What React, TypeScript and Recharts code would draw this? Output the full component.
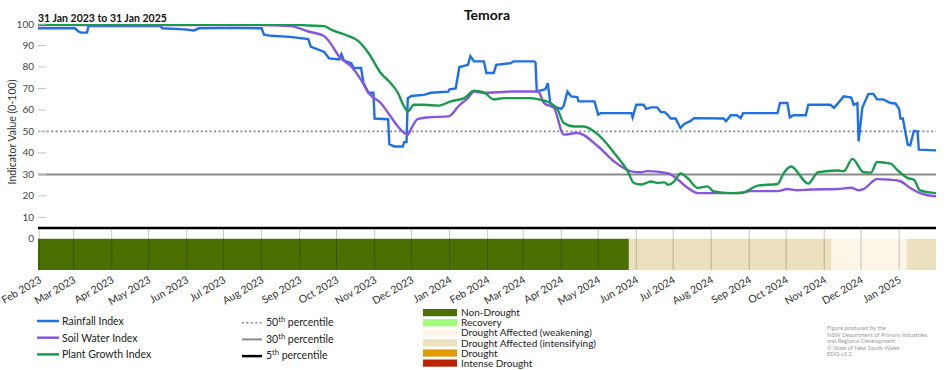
import React from "react";
import { LineChart, Line, XAxis, YAxis, ReferenceLine, ReferenceArea } from "recharts";

const START = Date.UTC(2023, 0, 31);
const DAY = 86400000;
const FONT = "Lato, 'Open Sans', sans-serif";

// x values: days since 31 Jan 2023
const rainDay = [
  0, 30, 33, 35, 40, 41, 100, 101, 119, 127, 131, 160, 182, 184, 190, 205, 220, 222, 233, 237,
  245, 247, 249, 255, 257, 263, 265, 269, 273, 274, 285, 286, 290, 297, 298, 300, 301, 304, 314, 320,
  334, 335, 340, 343, 350, 352, 355, 363, 365, 371, 373, 385, 387, 404, 405, 406, 413, 415, 417, 420,
  426, 428, 431, 434, 439, 440, 453, 456, 458, 483, 484, 487, 493, 495, 499, 504, 507, 510, 513, 515,
  519, 523, 526, 531, 534, 558, 560, 564, 569, 572, 574, 602, 604, 610, 612, 615, 625, 627, 645, 648,
  656, 662, 664, 667, 668, 671, 676, 680, 683, 688, 694, 698, 701, 702, 704, 708, 710, 713, 716, 717,
  731,
];
const rainValue = [
  98, 98, 96.5, 96, 96, 99, 99, 98, 97.5, 97, 98, 98.2, 98, 95, 94.5, 94, 93, 89.5, 87, 84,
  83.5, 86, 83, 81.8, 79.5, 79.5, 72.5, 68, 68, 56, 55.7, 44, 43, 43, 45, 45, 65.5, 66.5, 67, 68,
  68.5, 69.6, 70, 80, 81, 85, 82.6, 82.6, 77.2, 77.2, 81, 81.8, 82.6, 82.6, 82, 68.6, 69.6, 72.5, 63.2, 61.5,
  60.5, 62, 68.6, 66.3, 66, 64, 64, 57.8, 58.5, 58.5, 56.5, 62.4, 62.4, 60.5, 61.2, 61.2, 59, 59, 57.5, 56,
  56, 51.6, 53.5, 54.8, 56.2, 56, 54.8, 57.5, 57.5, 56.2, 58.5, 58.5, 63.2, 63.2, 56.5, 57.5, 57.5, 62.4, 62.4, 61,
  66.3, 65.8, 62.4, 63.2, 45.4, 61, 67.5, 67.5, 64.9, 64.9, 63.2, 63, 60.5, 56, 56, 43.8, 43.5, 50.3, 50, 41.5,
  41.2,
];

const soilDay = [
  0, 180, 206, 220, 233, 239, 245, 255, 263, 269, 279, 287, 293, 298, 301, 304, 309, 317, 334, 336,
  342, 350, 355, 363, 374, 387, 407, 412, 420, 428, 439, 456, 469, 483, 491, 496, 507, 513, 521, 529,
  537, 572, 580, 602, 610, 618, 629, 651, 662, 668, 672, 683, 694, 702, 710, 718, 731,
];
const soilValue = [
  99.5, 99.5, 99, 96.5, 94.3, 90.3, 85, 80.2, 74, 68, 63.2, 57, 52.3, 49.3, 48.5, 51.5, 55.7, 56.5, 57, 57.5,
  61.6, 65.5, 68.6, 67.9, 68.2, 68.6, 68.6, 63.2, 60.9, 48.5, 49.3, 43, 36, 31.4, 31, 31.5, 31, 30.5, 27.5, 23.7,
  21.3, 21.3, 22.2, 22.2, 23.2, 22.6, 23, 23.2, 23.8, 22.6, 23.2, 27.8, 27.5, 26.8, 23.7, 21.3, 19.8,
];

const plantDay = [
  0, 206, 220, 233, 239, 245, 250, 261, 269, 279, 287, 293, 298, 301, 306, 314, 326, 336, 347, 355,
  363, 371, 379, 401, 407, 417, 423, 428, 436, 444, 456, 469, 480, 485, 491, 499, 504, 510, 513, 518,
  523, 529, 537, 545, 550, 564, 574, 586, 602, 607, 613, 627, 635, 651, 656, 663, 672, 678, 683, 694,
  700, 708, 713, 718, 731,
];
const plantValue = [
  99.8, 99.8, 99.3, 99, 97.3, 96, 95, 91.9, 86.5, 77.2, 72.5, 67.9, 61.6, 59.3, 62.4, 62.4, 62, 64, 65.5, 69,
  68.2, 64.9, 65.5, 65.5, 65, 63.2, 60.1, 53.9, 52.3, 52.3, 48.5, 40, 31.5, 26, 25.3, 26.7, 26, 26.3, 25.2, 26.7,
  30.4, 28.2, 23.7, 24.4, 22.1, 21.3, 21.6, 24.8, 25.5, 30.6, 33.7, 25.7, 31, 31.8, 31.5, 37.2, 31, 30.8, 35.8, 35,
  31.8, 28.3, 27.5, 22.6, 21.3,
];

// drought status strip (days since 31 Jan 2023)
const bandFrom = [0, 481, 646, 707];
const bandTo = [481, 646, 707, 731];
const bandClass = [
  "Non-Drought",
  "Drought Affected (intensifying)",
  "Drought Affected (weakening)",
  "Drought Affected (intensifying)",
];

const monthTicks = [
  "2023-02-01", "2023-03-01", "2023-04-01", "2023-05-01", "2023-06-01", "2023-07-01",
  "2023-08-01", "2023-09-01", "2023-10-01", "2023-11-01", "2023-12-01", "2024-01-01",
  "2024-02-01", "2024-03-01", "2024-04-01", "2024-05-01", "2024-06-01", "2024-07-01",
  "2024-08-01", "2024-09-01", "2024-10-01", "2024-11-01", "2024-12-01", "2025-01-01",
];
const monthLabels = [
  "Feb 2023", "Mar 2023", "Apr 2023", "May 2023", "Jun 2023", "Jul 2023",
  "Aug 2023", "Sep 2023", "Oct 2023", "Nov 2023", "Dec 2023", "Jan 2024",
  "Feb 2024", "Mar 2024", "Apr 2024", "May 2024", "Jun 2024", "Jul 2024",
  "Aug 2024", "Sep 2024", "Oct 2024", "Nov 2024", "Dec 2024", "Jan 2025",
];
const yTicks = [0, 10, 20, 30, 40, 50, 60, 70, 80, 90, 100];

const seriesNames = ["Rainfall Index", "Soil Water Index", "Plant Growth Index"];
const seriesColors = ["#1f6fe6", "#8657dc", "#1a9a4c"];
const pctNames = ["50", "30", "5"];
const classNames = [
  "Non-Drought",
  "Recovery",
  "Drought Affected (weakening)",
  "Drought Affected (intensifying)",
  "Drought",
  "Intense Drought",
];
const classColors: Record<string, string> = {
  "Non-Drought": "#4b6f00",
  Recovery: "#a4fb7c",
  "Drought Affected (weakening)": "#fdf5e8",
  "Drought Affected (intensifying)": "#ece1bf",
  Drought: "#e19a05",
  "Intense Drought": "#be2300",
};
const credits = [
  "Figure produced by the",
  "NSW Department of Primary Industries",
  "and Regional Development",
  "\u00a9 State of New South Wales",
  "EDIS v2.2",
];

const toDay = (s: string) => {
  const [y, m, d] = s.split("-").map(Number);
  return Math.round((Date.UTC(y, m - 1, d) - START) / DAY);
};
const monthDays = monthTicks.map(toDay);
const zip = (days: number[], vals: number[]) => days.map((d, i) => ({ d, v: vals[i] }));
const rainData = zip(rainDay, rainValue);
const soilData = zip(soilDay, soilValue);
const plantData = zip(plantDay, plantValue);

const BAND_MIN = -14.5;

function YTick({ x, y, payload }: any) {
  return (
    <g>
      {payload.value > 0 && (
        <line x1={x + 4} x2={x + 12} y1={y} y2={y} stroke="#c4c4c4" strokeWidth={1} />
      )}
      <text x={x} y={y} dy={3.5} textAnchor="end" fontSize={10} fill="#444" fontFamily={FONT}>
        {payload.value}
      </text>
    </g>
  );
}

function XTick({ x, y, payload }: any) {
  const i = monthDays.indexOf(payload.value);
  return (
    <text
      transform={`translate(${x + 3},${y + 12}) rotate(-30)`}
      textAnchor="end"
      fontSize={10.5}
      fill="#333"
      fontFamily={FONT}
    >
      {monthLabels[i]}
    </text>
  );
}

export default function App() {
  return (
    <div style={{ position: "absolute", left: 0, top: 0, width: 952, height: 370, background: "#fff" }}>
      <LineChart width={952} height={370} margin={{ top: 24, right: 16, bottom: 0, left: 0 }}>
        <XAxis
          type="number"
          dataKey="d"
          domain={[0, 731]}
          ticks={monthDays}
          interval={0}
          tick={XTick}
          tickLine={false}
          axisLine={false}
          tickSize={0}
          tickMargin={0}
          height={100}
        />
        <YAxis
          type="number"
          domain={[BAND_MIN, 100]}
          ticks={yTicks}
          interval={0}
          tick={YTick}
          tickLine={false}
          axisLine={false}
          tickSize={0}
          tickMargin={4}
          width={38}
          allowDataOverflow
        />
        {bandClass.map((c, i) => (
          <ReferenceArea
            key={"b" + i}
            x1={bandFrom[i]}
            x2={bandTo[i]}
            y1={BAND_MIN}
            y2={0}
            fill={classColors[c]}
            fillOpacity={1}
            stroke="none"
          />
        ))}
        {monthDays.map((m) => (
          <ReferenceLine
            key={"g" + m}
            segment={[
              { x: m, y: 4.6 },
              { x: m, y: BAND_MIN },
            ]}
            stroke="rgba(0,0,0,0.22)"
            strokeWidth={1}
          />
        ))}
        <ReferenceLine y={50} stroke="#8a8a8a" strokeWidth={1.6} strokeDasharray="2 2.4" />
        <ReferenceLine y={30} stroke="#8a8a8a" strokeWidth={2} />
        <ReferenceLine y={5} stroke="#000" strokeWidth={2.5} />
        <Line
          data={rainData}
          dataKey="v"
          type="linear"
          stroke={seriesColors[0]}
          strokeWidth={2.4}
          dot={false}
          activeDot={false}
          isAnimationActive={false}
        />
        <Line
          data={soilData}
          dataKey="v"
          type="monotone"
          stroke={seriesColors[1]}
          strokeWidth={2.4}
          dot={false}
          activeDot={false}
          isAnimationActive={false}
        />
        <Line
          data={plantData}
          dataKey="v"
          type="monotone"
          stroke={seriesColors[2]}
          strokeWidth={2.4}
          dot={false}
          activeDot={false}
          isAnimationActive={false}
        />
      </LineChart>

      <svg
        width={952}
        height={370}
        style={{ position: "absolute", left: 0, top: 0, pointerEvents: "none" }}
        fontFamily={FONT}
      >
        <text x={487} y={20} textAnchor="middle" fontSize={14} fontWeight={700} fill="#111">
          Temora
        </text>
        <text x={38} y={22} fontSize={10.5} fontWeight={700} fill="#111">
          31 Jan 2023 to 31 Jan 2025
        </text>
        <text transform="translate(16,132) rotate(-90)" textAnchor="middle" fontSize={10.5} fill="#333">
          Indicator Value (0-100)
        </text>

        {seriesNames.map((n, i) => (
          <g key={n}>
            <line x1={37} x2={59} y1={321 + i * 16.7} y2={321 + i * 16.7} stroke={seriesColors[i]} strokeWidth={2.5} />
            <text x={62} y={324.8 + i * 16.7} fontSize={10.5} fill="#222">
              {n}
            </text>
          </g>
        ))}

        {pctNames.map((p, i) => (
          <g key={p}>
            <line
              x1={242}
              x2={262}
              y1={322.7 + i * 16.7}
              y2={322.7 + i * 16.7}
              stroke={i === 2 ? "#000" : "#8a8a8a"}
              strokeWidth={i === 0 ? 1.6 : i === 1 ? 2 : 2.5}
              strokeDasharray={i === 0 ? "2 2.4" : undefined}
            />
            <text x={266} y={326 + i * 16.7} fontSize={10.5} fill="#222">
              {p}
              <tspan dy={-4} fontSize={7.5}>
                th
              </tspan>
              <tspan dy={4}> percentile</tspan>
            </text>
          </g>
        ))}

        {classNames.map((c, i) => (
          <g key={c}>
            <rect x={423} y={309 + i * 10.1} width={34} height={7.2} fill={classColors[c]} />
            <text x={461} y={316.2 + i * 10.1} fontSize={10} fill="#222">
              {c}
            </text>
          </g>
        ))}

        {credits.map((t, i) => (
          <text key={t} x={827} y={330 + i * 6.6} fontSize={5.8} fill="#9a9a9a">
            {t}
          </text>
        ))}
      </svg>
    </div>
  );
}
